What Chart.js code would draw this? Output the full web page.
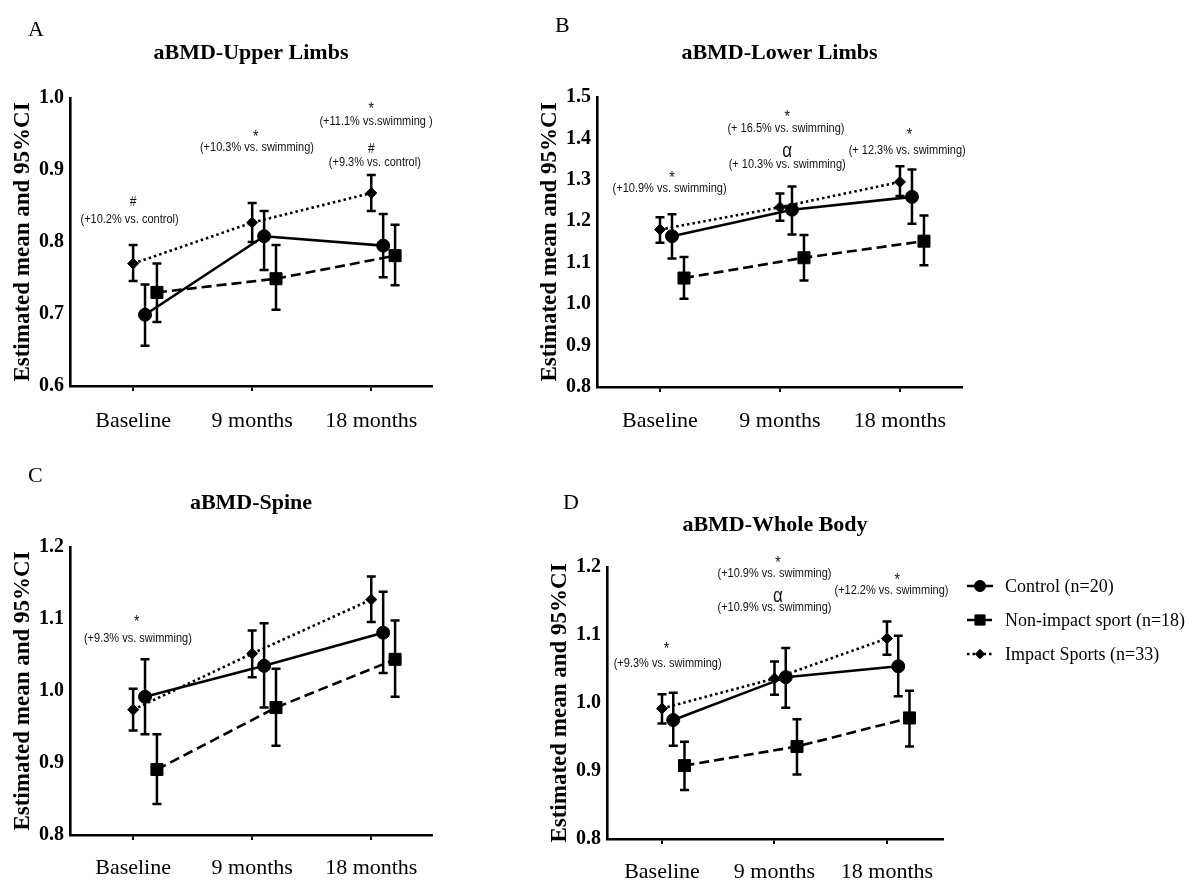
<!DOCTYPE html>
<html><head><meta charset="utf-8">
<script src="https://cdn.jsdelivr.net/npm/chart.js@4.4.0/dist/chart.umd.min.js"></script>
<style>
html,body{margin:0;padding:0;background:#fff;}
body{width:1196px;height:885px;position:relative;overflow:hidden;}
canvas{position:absolute;display:block;}
</style></head><body>
<canvas id="cA" width="460" height="440" style="left:0px;top:0px"></canvas>
<canvas id="cB" width="460" height="440" style="left:527px;top:0px"></canvas>
<canvas id="cC" width="460" height="445" style="left:0px;top:440px"></canvas>
<canvas id="cD" width="659" height="445" style="left:537px;top:440px"></canvas>
<script>
// ---------- DATA ----------
const categories = ['Baseline', '9 months', '18 months'];
const seriesNames = ['Control (n=20)', 'Non-impact sport (n=18)', 'Impact Sports (n=33)'];
const yAxisTitle = 'Estimated mean and 95%CI';

// A: aBMD-Upper Limbs
const upperControl     = [0.699, 0.808, 0.795];
const upperControlLo   = [0.656, 0.761, 0.751];
const upperControlHi   = [0.741, 0.843, 0.839];
const upperNonImpact   = [0.730, 0.749, 0.781];
const upperNonImpactLo = [0.689, 0.706, 0.740];
const upperNonImpactHi = [0.770, 0.796, 0.824];
const upperImpact      = [0.770, 0.827, 0.868];
const upperImpactLo    = [0.746, 0.800, 0.843];
const upperImpactHi    = [0.796, 0.854, 0.893];

// B: aBMD-Lower Limbs
const lowerControl     = [1.164, 1.228, 1.259];
const lowerControlLo   = [1.110, 1.168, 1.194];
const lowerControlHi   = [1.217, 1.284, 1.325];
const lowerNonImpact   = [1.063, 1.112, 1.152];
const lowerNonImpactLo = [1.013, 1.057, 1.094];
const lowerNonImpactHi = [1.114, 1.167, 1.214];
const lowerImpact      = [1.180, 1.234, 1.295];
const lowerImpactLo    = [1.148, 1.201, 1.261];
const lowerImpactHi    = [1.210, 1.267, 1.333];

// C: aBMD-Spine
const spineControl     = [0.992, 1.035, 1.081];
const spineControlLo   = [0.940, 0.977, 1.025];
const spineControlHi   = [1.044, 1.094, 1.138];
const spineNonImpact   = [0.891, 0.977, 1.044];
const spineNonImpactLo = [0.843, 0.924, 0.992];
const spineNonImpactHi = [0.940, 1.031, 1.098];
const spineImpact      = [0.974, 1.052, 1.127];
const spineImpactLo    = [0.945, 1.019, 1.096];
const spineImpactHi    = [1.003, 1.084, 1.159];

// D: aBMD-Whole Body
const wholeControl     = [0.975, 1.038, 1.054];
const wholeControlLo   = [0.937, 0.993, 1.010];
const wholeControlHi   = [1.015, 1.081, 1.099];
const wholeNonImpact   = [0.908, 0.936, 0.978];
const wholeNonImpactLo = [0.872, 0.895, 0.936];
const wholeNonImpactHi = [0.943, 0.976, 1.018];
const wholeImpact      = [0.992, 1.036, 1.095];
const wholeImpactLo    = [0.970, 1.012, 1.071];
const wholeImpactHi    = [1.013, 1.061, 1.120];

// annotation texts
const notesA = [
  {x: 0.00, y: 0.855, t: '#'},  {x: -0.03, y: 0.831, t: '(+10.2% vs. control)'},
  {x: 1.03, y: 0.946, t: '*'},  {x: 1.04, y: 0.931, t: '(+10.3% vs. swimming)'},
  {x: 2.00, y: 0.984, t: '*'},  {x: 2.04, y: 0.967, t: '(+11.1% vs.swimming )'},
  {x: 2.00, y: 0.929, t: '#'},  {x: 2.03, y: 0.910, t: '(+9.3% vs. control)'}
];
const notesB = [
  {x: 0.10, y: 1.304, t: '*'},  {x: 0.08, y: 1.280, t: '(+10.9% vs. swimming)'},
  {x: 1.06, y: 1.451, t: '*'},  {x: 1.05, y: 1.424, t: '(+ 16.5% vs. swimming)'},
  {x: 1.06, y: 1.368, t: 'α'},  {x: 1.06, y: 1.337, t: '(+ 10.3% vs. swimming)'},
  {x: 2.08, y: 1.407, t: '*'},  {x: 2.06, y: 1.371, t: '(+ 12.3% vs. swimming)'}
];
const notesC = [
  {x: 0.03, y: 1.095, t: '*'},  {x: 0.04, y: 1.073, t: '(+9.3% vs. swimming)'}
];
const notesD = [
  {x: 0.04, y: 1.079, t: '*'},  {x: 0.05, y: 1.058, t: '(+9.3% vs. swimming)'},
  {x: 1.03, y: 1.205, t: '*'},  {x: 1.00, y: 1.190, t: '(+10.9% vs. swimming)'},
  {x: 1.03, y: 1.157, t: 'α'},  {x: 1.00, y: 1.141, t: '(+10.9% vs. swimming)'},
  {x: 2.09, y: 1.181, t: '*'},  {x: 2.04, y: 1.166, t: '(+12.2% vs. swimming)'}
];

// ---------- STYLE ----------
const SERIF = '"Liberation Serif", "Times New Roman", serif';
const SANS = '"Liberation Sans", Arial, sans-serif';
const seriesStyles = [
  {offset: 0.1, pointStyle: 'circle',  radius: 6.5, dash: [],      order: 0},
  {offset: 0.2, pointStyle: 'rect',    radius: 8.5, dash: [10, 5], order: 1},
  {offset: 0.0, pointStyle: 'rectRot', radius: 5.5, dash: [2.5, 3], order: 2}
];

const errorBars = {
  id: 'errorBars',
  afterDatasetsDraw(chart) {
    const ctx = chart.ctx, ys = chart.scales.y;
    ctx.save();
    ctx.strokeStyle = '#000';
    ctx.lineWidth = 2.5;
    ctx.setLineDash([]);
    chart.data.datasets.forEach((ds, di) => {
      const meta = chart.getDatasetMeta(di);
      meta.data.forEach((el, i) => {
        const yl = ys.getPixelForValue(ds.lo[i]);
        const yh = ys.getPixelForValue(ds.hi[i]);
        const x = el.x;
        ctx.beginPath();
        ctx.moveTo(x, yl); ctx.lineTo(x, yh);
        ctx.moveTo(x - 4.5, yl); ctx.lineTo(x + 4.5, yl);
        ctx.moveTo(x - 4.5, yh); ctx.lineTo(x + 4.5, yh);
        ctx.stroke();
      });
    });
    ctx.restore();
  }
};

const notesPlugin = {
  id: 'notes',
  afterDraw(chart, args, opts) {
    const ctx = chart.ctx, xs = chart.scales.x, ys = chart.scales.y;
    ctx.save();
    ctx.fillStyle = '#111';
    ctx.textAlign = 'center';
    ctx.textBaseline = 'middle';
    (opts.items || []).forEach(n => {
      let size = 11;
      if (n.t === '*') size = 14;
      else if (n.t === '#') size = 12;
      else if (n.t === 'α') size = 17;
      ctx.font = size + 'px ' + SANS;
      const px = xs.getPixelForValue(n.x), py = ys.getPixelForValue(n.y);
      ctx.save();
      ctx.translate(px, py);
      ctx.scale(1, 1.2);
      ctx.fillText(n.t, 0, 0);
      ctx.restore();
    });
    if (opts.letter) {
      ctx.fillStyle = '#000';
      ctx.textAlign = 'left';
      ctx.font = '22px ' + SERIF;
      ctx.fillText(opts.letter.t, opts.letter.x, opts.letter.y);
    }
    ctx.restore();
  }
};

const legendPlugin = {
  id: 'sideLegend',
  afterDraw(chart, args, opts) {
    if (!opts.show) return;
    const ctx = chart.ctx;
    ctx.save();
    chart.data.datasets.forEach((ds, i) => {
      const y = opts.y0 + i * opts.step;
      ctx.strokeStyle = '#000';
      ctx.fillStyle = '#000';
      ctx.lineWidth = 2.5;
      ctx.setLineDash(ds.borderDash || []);
      ctx.beginPath();
      ctx.moveTo(opts.x0, y); ctx.lineTo(opts.x0 + 26, y);
      ctx.stroke();
      ctx.setLineDash([]);
      ctx.lineWidth = 1;
      Chart.helpers.drawPoint(ctx, {pointStyle: ds.pointStyle, radius: ds.pointRadius * 0.85, rotation: 0, borderWidth: 1}, opts.x0 + 13, y);
      ctx.fillStyle = '#000';
      ctx.font = '18px ' + SERIF;
      ctx.textAlign = 'left';
      ctx.textBaseline = 'middle';
      ctx.save();
      ctx.translate(opts.x0 + 38, y + 1);
      ctx.scale(1, 1.1);
      ctx.fillText(ds.label, 0, 0);
      ctx.restore();
    });
    ctx.restore();
  }
};

function makeChart(id, cfg) {
  const sets = [
    [cfg.control, cfg.controlLo, cfg.controlHi],
    [cfg.nonImpact, cfg.nonImpactLo, cfg.nonImpactHi],
    [cfg.impact, cfg.impactLo, cfg.impactHi]
  ];
  const datasets = sets.map((s, k) => {
    const st = seriesStyles[k];
    return {
      label: seriesNames[k],
      data: s[0].map((v, i) => ({x: i + st.offset, y: v})),
      lo: s[1], hi: s[2],
      borderColor: '#000',
      backgroundColor: '#000',
      borderWidth: 2.6,
      borderDash: st.dash,
      pointStyle: st.pointStyle,
      pointRadius: st.radius,
      pointHoverRadius: st.radius,
      pointBackgroundColor: '#000',
      pointBorderColor: '#000',
      pointBorderWidth: 1,
      tension: 0,
      order: st.order,
      clip: false
    };
  });
  return new Chart(document.getElementById(id), {
    type: 'line',
    data: {datasets},
    options: {
      responsive: false,
      animation: false,
      events: [],
      layout: {padding: {left: 0, top: 0, right: cfg.padRight, bottom: 0}},
      plugins: {
        legend: {display: false},
        tooltip: {enabled: false},
        title: {
          display: true, text: cfg.title, fullSize: false, align: 'center', color: '#000',
          font: {family: SERIF, size: 22, weight: 'bold', lineHeight: 1},
          padding: {top: cfg.titleTop, bottom: cfg.titleBottom}
        },
        notes: {items: cfg.notes, letter: cfg.letter},
        sideLegend: cfg.legend || {show: false}
      },
      scales: {
        x: {
          type: 'linear', min: cfg.xMin, max: cfg.xMax,
          afterBuildTicks: s => { s.ticks = categories.map((c, i) => ({value: i})); },
          afterFit: s => { s.height = cfg.xHeight; },
          ticks: {
            callback: v => categories[v],
            color: '#000', padding: cfg.xPad, maxRotation: 0, autoSkip: false,
            font: {family: SERIF, size: 22}
          },
          grid: {drawOnChartArea: false, drawTicks: true, tickLength: 5, color: '#000', lineWidth: 2},
          border: {display: true, color: '#000', width: 2.6}
        },
        y: {
          min: cfg.yMin, max: cfg.yMax,
          afterFit: s => { s.width = 70; },
          afterBuildTicks: s => {
            const t = [];
            for (let v = cfg.yMin; v <= cfg.yMax + 1e-9; v += 0.1) t.push({value: Math.round(v * 10) / 10});
            s.ticks = t;
          },
          ticks: {
            callback: v => v.toFixed(1),
            color: '#000', padding: 6,
            font: {family: SERIF, size: 20, weight: 'bold'}
          },
          grid: {drawOnChartArea: false, drawTicks: false},
          border: {display: true, color: '#000', width: 2.6},
          title: {
            display: true, text: yAxisTitle, color: '#000',
            font: {family: SERIF, size: 23, weight: 'bold', lineHeight: 1},
            padding: {top: 12, bottom: 0}
          }
        }
      }
    },
    plugins: [errorBars, notesPlugin, legendPlugin]
  });
}

makeChart('cA', {
  title: 'aBMD-Upper Limbs', titleTop: 42, titleBottom: 34,
  control: upperControl, controlLo: upperControlLo, controlHi: upperControlHi,
  nonImpact: upperNonImpact, nonImpactLo: upperNonImpactLo, nonImpactHi: upperNonImpactHi,
  impact: upperImpact, impactLo: upperImpactLo, impactHi: upperImpactHi,
  yMin: 0.6, yMax: 1.0, xMin: -0.53, xMax: 2.51, padRight: 28, xHeight: 54, xPad: 17,
  notes: notesA, letter: {t: 'A', x: 28, y: 30}
});
makeChart('cB', {
  title: 'aBMD-Lower Limbs', titleTop: 42, titleBottom: 33,
  control: lowerControl, controlLo: lowerControlLo, controlHi: lowerControlHi,
  nonImpact: lowerNonImpact, nonImpactLo: lowerNonImpactLo, nonImpactHi: lowerNonImpactHi,
  impact: lowerImpact, impactLo: lowerImpactLo, impactHi: lowerImpactHi,
  yMin: 0.8, yMax: 1.5, xMin: -0.525, xMax: 2.517, padRight: 25, xHeight: 53, xPad: 16,
  notes: notesB, letter: {t: 'B', x: 28, y: 26}
});
makeChart('cC', {
  title: 'aBMD-Spine', titleTop: 52, titleBottom: 33,
  control: spineControl, controlLo: spineControlLo, controlHi: spineControlHi,
  nonImpact: spineNonImpact, nonImpactLo: spineNonImpactLo, nonImpactHi: spineNonImpactHi,
  impact: spineImpact, impactLo: spineImpactLo, impactHi: spineImpactHi,
  yMin: 0.8, yMax: 1.2, xMin: -0.53, xMax: 2.51, padRight: 28, xHeight: 50, xPad: 15,
  notes: notesC, letter: {t: 'C', x: 28, y: 36}
});
makeChart('cD', {
  title: 'aBMD-Whole Body', titleTop: 74, titleBottom: 31,
  control: wholeControl, controlLo: wholeControlLo, controlHi: wholeControlHi,
  nonImpact: wholeNonImpact, nonImpactLo: wholeNonImpactLo, nonImpactHi: wholeNonImpactHi,
  impact: wholeImpact, impactLo: wholeImpactLo, impactHi: wholeImpactHi,
  yMin: 0.8, yMax: 1.2, xMin: -0.489, xMax: 2.498, padRight: 253, xHeight: 46, xPad: 15,
  notes: notesD, letter: {t: 'D', x: 26, y: 63},
  legend: {show: true, x0: 430, y0: 146, step: 34}
});
</script>
</body></html>
